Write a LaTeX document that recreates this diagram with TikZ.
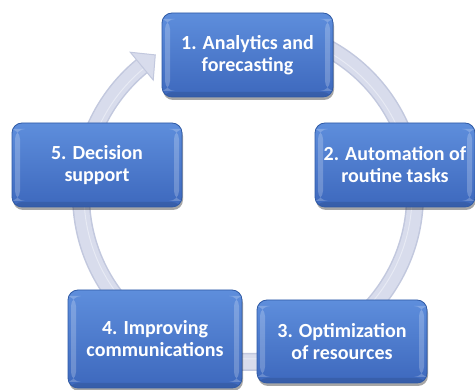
\documentclass[tikz,border=0pt]{standalone}
\usepackage{fontspec}
\setmainfont{Carlito}
\usetikzlibrary{shadows}
\definecolor{boxtop}{HTML}{5E8EDC}
\definecolor{boxbot}{HTML}{3D68BD}
\definecolor{boxedge}{HTML}{2F5AA6}
\definecolor{ringedge}{HTML}{C2C8DE}
\definecolor{ringfill}{HTML}{D8DCEC}
\definecolor{ringlight}{HTML}{E7EAF4}
\tikzset{
  stagebox/.style={
    rounded corners=10pt, inner sep=0pt, align=center,
    top color=boxtop, bottom color=boxbot,
    draw=boxedge, line width=0.8pt,
    text=white, font=\bfseries\fontsize{20}{22}\selectfont,
    drop shadow={shadow xshift=1pt, shadow yshift=-3pt, opacity=0.35, fill=black},
    path picture={
      \fill[white,opacity=0.22]
        ([xshift=3pt,yshift=6pt]path picture bounding box.south west) rectangle
        ([xshift=8pt,yshift=-6pt]path picture bounding box.north west);
      \fill[white,opacity=0.22]
        ([xshift=-8pt,yshift=6pt]path picture bounding box.south east) rectangle
        ([xshift=-3pt,yshift=-6pt]path picture bounding box.north east);
      \fill[black,opacity=0.10]
        (path picture bounding box.south west) rectangle
        ([yshift=5pt]path picture bounding box.south east);
    }
  },
  ringstroke/.style={line width=18pt, draw=ringedge},
  ringinner/.style={line width=15pt, draw=ringfill},
  ringshine/.style={line width=1pt, draw=ringlight},
  ringhead/.style={fill=ringfill, draw=ringedge, line width=1pt, line join=miter}
}
\begin{document}
\begin{tikzpicture}[x=1pt,y=1pt]
  \useasboundingbox (0,0) rectangle (475,390);
  \fill[white] (0,0) rectangle (475,390);

  % circular flow arrow behind the stages
  \coordinate (c) at (248,195);
  \draw[ringstroke] ([shift={(95:167pt)}]c) arc[start angle=95, end angle=-230.5, radius=167pt];
  \draw[ringinner] ([shift={(95:167pt)}]c) arc[start angle=95, end angle=-230.5, radius=167pt];
  \draw[ringshine] ([shift={(95:164pt)}]c) arc[start angle=95, end angle=-230.5, radius=164pt];
  \coordinate (hout) at ([shift={(129.5:185pt)}]c);
  \coordinate (hin) at ([shift={(129.5:149pt)}]c);
  \coordinate (htip) at ([shift={(123.5:168pt)}]c);
  \filldraw[ringhead] (hout) -- (htip) -- (hin) -- cycle;

  % stages
  \node[stagebox, minimum width=171pt, minimum height=84pt] (s1) at (247.5,335)
    {1. Analytics and\\forecasting};
  \node[stagebox, minimum width=160pt, minimum height=84pt] (s2) at (395,225)
    {2. Automation of\\routine tasks};
  \node[stagebox, minimum width=170pt, minimum height=83pt] (s3) at (342,48.5)
    {3. Optimization\\of resources};
  \node[stagebox, minimum width=174pt, minimum height=98pt] (s4) at (155,51)
    {4. Improving\\communications};
  \node[stagebox, minimum width=170pt, minimum height=84pt] (s5) at (97,225)
    {5. Decision\\support};
\end{tikzpicture}
\end{document}
